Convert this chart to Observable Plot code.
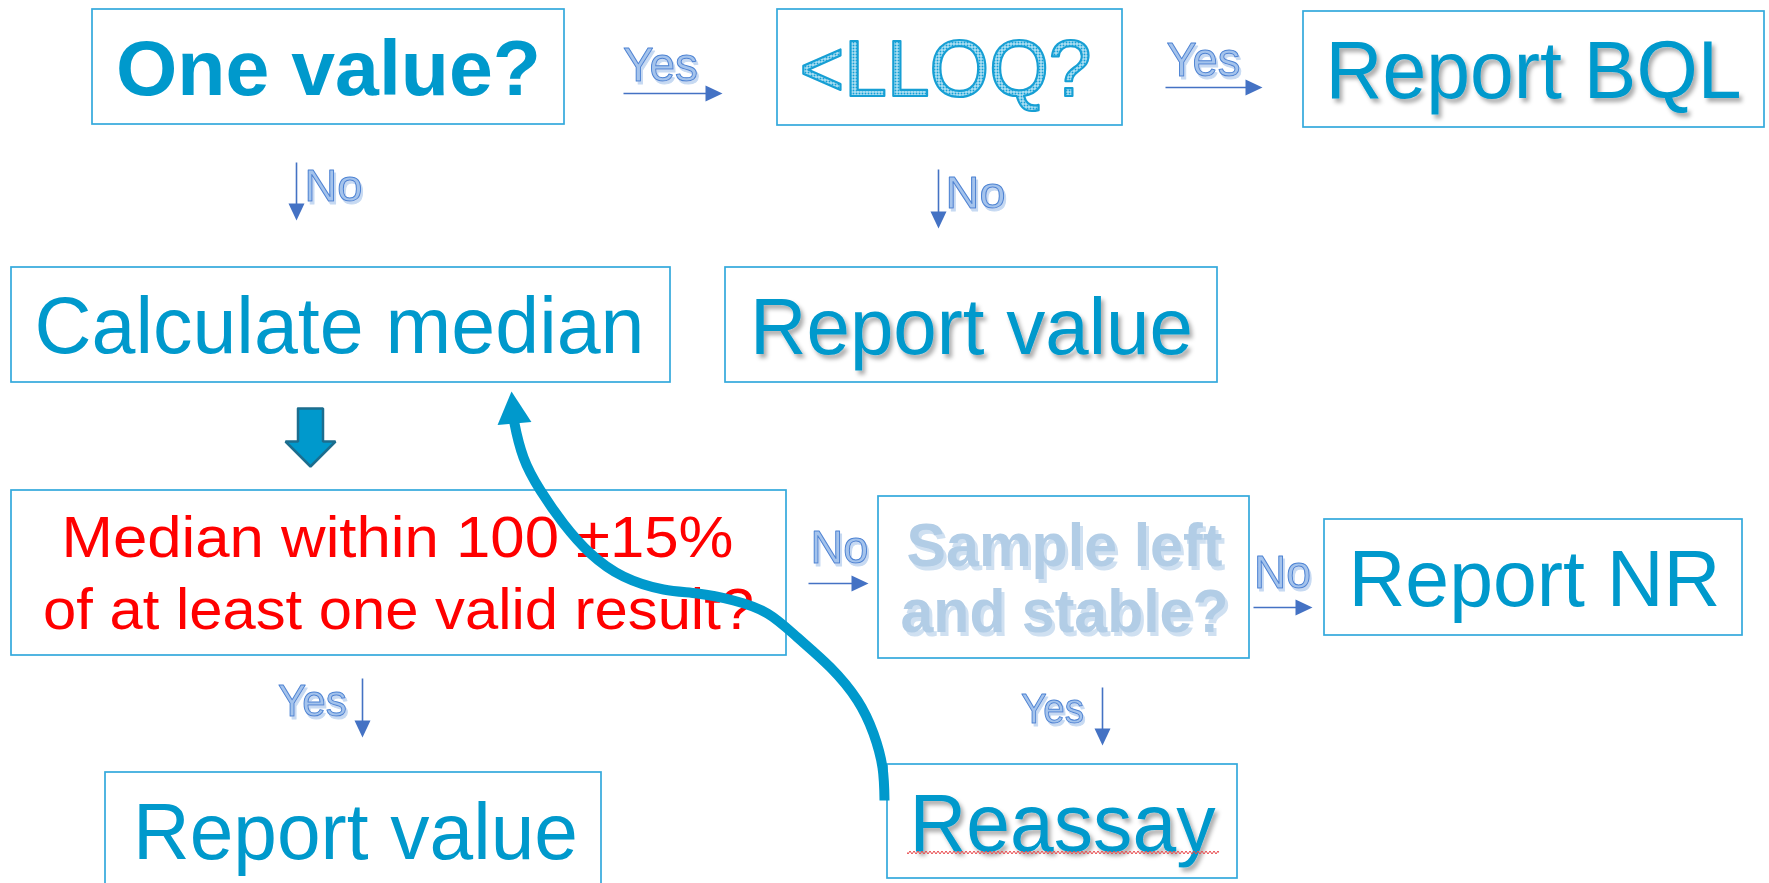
<!DOCTYPE html>
<html>
<head>
<meta charset="utf-8">
<script src="https://cdn.jsdelivr.net/npm/d3@7"></script>
<script src="https://cdn.jsdelivr.net/npm/@observablehq/plot@0.6"></script>
<style>
  html, body { margin: 0; padding: 0; background: #fff; overflow: hidden; }
  svg { display: block; }
</style>
</head>
<body>
<script>
const W = 1769, H = 883;

// ---- Flowchart content ----
const nodeLabels = [
  "One value?",
  "<LLOQ?",
  "Report BQL",
  "Calculate median",
  "Report value",
  "Median within 100 ±15%\nof at least one valid result?",
  "Sample left\nand stable?",
  "Report NR",
  "Report value",
  "Reassay"
];
const edgeLabels = ["Yes", "Yes", "No", "No", "No", "No", "Yes", "Yes"];

// ---- Layout (pixel space) ----
const boxLayout = [
  [92, 564, 9, 124],
  [777, 1122, 9, 125],
  [1303, 1764, 11, 127],
  [11, 670, 267, 382],
  [725, 1217, 267, 382],
  [11, 786, 490, 655],
  [878, 1249, 496, 658],
  [1324, 1742, 519, 635],
  [105, 601, 772, 892],
  [887, 1237, 764, 878]
];
// one entry per text line, in label order
const lineLayout = [
  {cx: 328, base: 94, fs: 78, w: 425, s: "bold"},
  {cx: 945, base: 95, fs: 80, w: 292, s: "pattern"},
  {cx: 1533, base: 97, fs: 82, w: 416, s: "shadow"},
  {cx: 339, base: 352, fs: 79, w: 610, s: "plain"},
  {cx: 971, base: 353, fs: 80, w: 443, s: "shadow"},
  {cx: 397, base: 556, fs: 58, w: 672, s: "red"},
  {cx: 398, base: 628, fs: 58, w: 711, s: "red"},
  {cx: 1064, base: 565, fs: 62, w: 316, s: "pale"},
  {cx: 1064, base: 631, fs: 62, w: 328, s: "pale"},
  {cx: 1534, base: 605, fs: 79, w: 372, s: "plain"},
  {cx: 355, base: 858, fs: 79, w: 445, s: "plain"},
  {cx: 1062, base: 850, fs: 81, w: 306, s: "shadow"}
];
const edgeTextLayout = [
  {cx: 660, base: 80, fs: 48, w: 75},
  {cx: 1203, base: 75, fs: 48, w: 74},
  {cx: 333, base: 200, fs: 45, w: 58},
  {cx: 975, base: 207, fs: 45, w: 60},
  {cx: 839, base: 562, fs: 47, w: 58},
  {cx: 1282, base: 587, fs: 46, w: 57},
  {cx: 312, base: 715, fs: 45, w: 69},
  {cx: 1052, base: 722, fs: 43, w: 63}
];
const arrowLayout = [
  [623, 93, 722, 93],
  [1165, 87, 1262, 87],
  [296, 162, 296, 220],
  [938, 169, 938, 228],
  [808, 583, 868, 583],
  [1253, 607, 1312, 607],
  [362, 678, 362, 737],
  [1102, 687, 1102, 745]
];
const blockArrow = {cx: 310, top: 408, neck: 441, tip: 466, shaft: 12.5, head: 25};
// Reassay -> Calculate median loop, traced from bottom to the arrowhead base
const loopX = [884, 882, 873, 857, 830, 797, 767, 733, 697, 663, 623, 590, 563, 540, 523, 514];
const loopY = [800, 767, 733, 700, 667, 637, 613, 600, 593, 589, 576, 553, 523, 490, 457, 423];
const loopTip = [511, 391];
const squiggle = {x1: 907, x2: 1219, y1: 849, y2: 856};

// ---- Colours ----
const C = "#0099cc";
const BOX = "#33a9dc";
const ARROW = "#4472c4";

// ---- Derived tables ----
const boxes = boxLayout.map(([x1, x2, y1, y2], i) => ({label: nodeLabels[i], x1, x2, y1, y2}));
const lines = [];
nodeLabels.forEach((lab, n) => lab.split("\n").forEach((t) => lines.push({node: n, text: t})));
const T = lines.map((d, i) => ({...d, ...lineLayout[i]}));
const E = edgeLabels.map((t, i) => ({text: t, ...edgeTextLayout[i]}));
const arrows = arrowLayout.map(([x1, y1, x2, y2], i) => ({x1, y1, x2, y2, id: i}));

function head(x1, y1, x2, y2, len, half, id) {
  const dx = x2 - x1, dy = y2 - y1, L = Math.hypot(dx, dy), ux = dx / L, uy = dy / L;
  const bx = x2 - ux * len, by = y2 - uy * len;
  return [
    {x: x2, y: y2, id},
    {x: bx - uy * half, y: by + ux * half, id},
    {x: bx + uy * half, y: by - ux * half, id},
    {x: x2, y: y2, id}
  ];
}
const thinHeads = arrows.flatMap(a => head(a.x1, a.y1, a.x2, a.y2, 17, 8, a.id));
const thinLines = arrows.map(a => {
  const dx = a.x2 - a.x1, dy = a.y2 - a.y1, L = Math.hypot(dx, dy);
  return {x1: a.x1, y1: a.y1, x2: a.x2 - dx / L * 12, y2: a.y2 - dy / L * 12};
});

const loop = loopX.map((x, i) => ({x, y: loopY[i]}));
const n = loop.length;
const baseP = loop[n - 1];
const loopHead = (() => {
  const [tx, ty] = loopTip;
  const dx = tx - baseP.x, dy = ty - baseP.y, L = Math.hypot(dx, dy), ux = dx / L, uy = dy / L;
  const half = 17;
  return [
    {x: tx, y: ty},
    {x: baseP.x - uy * half, y: baseP.y + ux * half},
    {x: baseP.x + uy * half, y: baseP.y - ux * half},
    {x: tx, y: ty}
  ];
})();
const loopDraw = [...loop, {x: baseP.x + (loopTip[0] - baseP.x) * 0.2, y: baseP.y + (loopTip[1] - baseP.y) * 0.2}];

const b = blockArrow;
const blockPoly = [
  [b.cx - b.shaft, b.top], [b.cx + b.shaft, b.top], [b.cx + b.shaft, b.neck], [b.cx + b.head, b.neck],
  [b.cx, b.tip], [b.cx - b.head, b.neck], [b.cx - b.shaft, b.neck], [b.cx - b.shaft, b.top]
].map(([x, y]) => ({x, y}));

// text groups (kept in mark order so they can be found again in the SVG)
const textGroups = [];
function txt(label, data, opts) {
  textGroups.push({label, data});
  return Plot.text(data, {
    x: "cx", y: "base", text: "text", fontSize: d => d.fs,
    textAnchor: "middle", lineAnchor: "bottom", ...opts
  });
}
const by = s => T.filter(d => d.s === s);

const chart = Plot.plot({
  width: W,
  height: H,
  margin: 0,
  x: {domain: [0, W], range: [0, W], axis: null},
  y: {domain: [0, H], range: [0, H], axis: null},
  style: {background: "white", fontFamily: "'Liberation Sans', Arial, sans-serif", overflow: "hidden"},
  marks: [
    Plot.rect(boxes, {x1: "x1", x2: "x2", y1: "y1", y2: "y2", fill: "white", stroke: BOX, strokeWidth: 1.7}),
    // block arrow
    Plot.line(blockPoly, {x: "x", y: "y", fill: C, stroke: "#1c6d8e", strokeWidth: 2.5, strokeLinejoin: "miter"}),
    // thin arrows
    Plot.link(thinLines, {x1: "x1", y1: "y1", x2: "x2", y2: "y2", stroke: ARROW, strokeWidth: 1.6}),
    Plot.line(thinHeads, {x: "x", y: "y", z: "id", fill: ARROW, stroke: "none"}),
    // edge labels
    txt("edge", E, {fill: "#a4c3ec", stroke: "#4d83d3", strokeWidth: 1, paintOrder: "normal"}),
    // node labels
    txt("plain", by("plain"), {fill: C}),
    txt("bold", by("bold"), {fill: C, fontWeight: "bold"}),
    txt("pattern", by("pattern"), {fill: "url(#dots)", stroke: "#169fd4", strokeWidth: 2.2, paintOrder: "normal"}),
    txt("shadow", by("shadow"), {fill: C}),
    txt("red", by("red"), {fill: "#ff0000"}),
    txt("pale", by("pale"), {fill: "#b2cde6", fontWeight: "bold"}),
    // spell-check squiggle under Reassay
    Plot.rect([squiggle], {x1: "x1", x2: "x2", y1: "y1", y2: "y2", fill: "url(#squiggle)"}),
    // loop arrow
    Plot.line(loopDraw, {x: "x", y: "y", curve: "natural", stroke: C, strokeWidth: 10, strokeLinecap: "butt"}),
    Plot.line(loopHead, {x: "x", y: "y", fill: C, stroke: "none"})
  ]
});

const svg = d3.select(chart);
const defs = svg.insert("defs", ":first-child");
const dots = defs.append("pattern").attr("id", "dots").attr("patternUnits", "userSpaceOnUse")
  .attr("width", 3).attr("height", 3);
dots.append("rect").attr("width", 3).attr("height", 3).attr("fill", "#d4eef9");
dots.append("rect").attr("width", 2).attr("height", 2).attr("fill", "#14a0d6");
const sq = defs.append("pattern").attr("id", "squiggle").attr("patternUnits", "userSpaceOnUse")
  .attr("x", 0).attr("y", squiggle.y1).attr("width", 4).attr("height", 7);
sq.append("path").attr("d", "M0,5 L2,2 L4,5").attr("fill", "none").attr("stroke", "#e8474b").attr("stroke-width", 1);

function dropShadow(id, dx, dy, sd, color, op) {
  defs.append("filter").attr("id", id)
    .attr("x", "-10%").attr("y", "-40%").attr("width", "130%").attr("height", "190%")
    .append("feDropShadow").attr("dx", dx).attr("dy", dy).attr("stdDeviation", sd)
    .attr("flood-color", color).attr("flood-opacity", op);
}
dropShadow("ds-dark", 3, 4, 2.2, "#000", 0.33);
dropShadow("ds-pale", 3, 4, 0.6, "#cfe0f1", 1);
dropShadow("ds-edge", 2, 3, 0.5, "#c6d9f2", 1);
const shadowOf = {shadow: "ds-dark", pale: "ds-pale", edge: "ds-edge"};

const textNodes = svg.selectAll('g[aria-label="text"]').nodes();
textGroups.forEach(({label, data}, gi) => {
  const g = textNodes[gi];
  if (!g) return;
  if (shadowOf[label]) g.setAttribute("filter", `url(#${shadowOf[label]})`);
  d3.select(g).selectAll("text").each(function (i) {
    const d = data[i];
    if (d && d.w) {
      this.setAttribute("textLength", d.w);
      this.setAttribute("lengthAdjust", "spacingAndGlyphs");
    }
  });
});

document.body.appendChild(chart);
</script>
</body>
</html>
